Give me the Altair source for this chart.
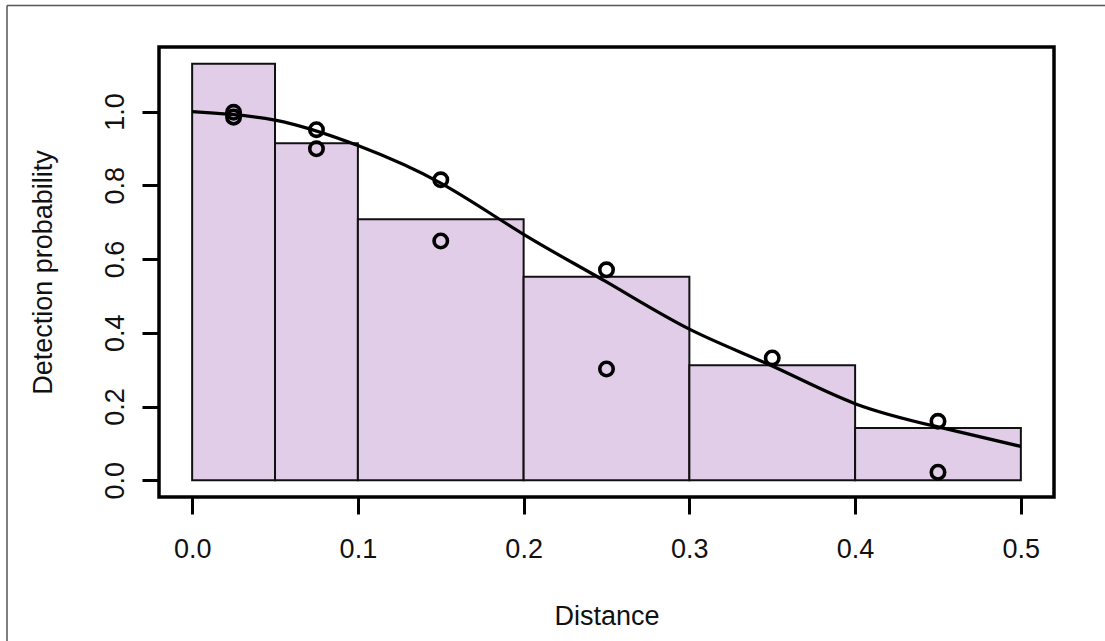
import altair as alt
import pandas as pd

# Histogram of scaled detections per distance bin
bin_left = [0.0, 0.05, 0.1, 0.2, 0.3, 0.4]
bin_right = [0.05, 0.1, 0.2, 0.3, 0.4, 0.5]
bin_height = [1.130, 0.914, 0.708, 0.552, 0.312, 0.142]

# Observed detection proportions at bin midpoints
point_x = [0.025, 0.025, 0.075, 0.075, 0.15, 0.15, 0.25, 0.25, 0.35, 0.45, 0.45]
point_y = [0.985, 0.998, 0.951, 0.899, 0.815, 0.649, 0.571, 0.302, 0.332, 0.160, 0.022]

# Fitted detection function
curve_x = [0.0, 0.05, 0.1, 0.15, 0.2, 0.25, 0.3, 0.35, 0.4, 0.45, 0.5]
curve_y = [1.0, 0.977, 0.908, 0.806, 0.667, 0.538, 0.410, 0.310, 0.208, 0.145, 0.092]

x_ticks = [0.0, 0.1, 0.2, 0.3, 0.4, 0.5]
y_ticks = [0.0, 0.2, 0.4, 0.6, 0.8, 1.0]

FONT = "Liberation Sans"
W, H = 895, 450

bars_df = pd.DataFrame({"left": bin_left, "right": bin_right,
                        "height": bin_height, "base": [0.0] * len(bin_left)})
pts_df = pd.DataFrame({"distance": point_x, "prob": point_y})
curve_df = pd.DataFrame({"distance": curve_x, "prob": curve_y})

xscale = alt.Scale(domain=[-0.02, 0.52], nice=False, zero=False)
yscale = alt.Scale(domain=[-0.0452, 1.1752], nice=False, zero=False)

x_axis = alt.Axis(
    values=x_ticks, format=".1f", domain=False, grid=False,
    tickSize=17, tickWidth=3, tickColor="black",
    labelFont=FONT, labelFontSize=27, labelColor="#111111",
    labelBaseline="alphabetic", labelPadding=43,
    title="Distance", titleFont=FONT, titleFontSize=27, titleFontWeight="normal",
    titleColor="#111111", titleX=W / 2, titleY=127, titleAlign="center",
    titleBaseline="alphabetic", titleAngle=0,
)
y_axis = alt.Axis(
    values=y_ticks, format=".1f", domain=False, grid=False,
    tickSize=17, tickWidth=3, tickColor="black",
    labelFont=FONT, labelFontSize=27, labelColor="#111111",
    labelAngle=-90, labelAlign="center", labelBaseline="alphabetic", labelPadding=19,
    title="Detection probability", titleFont=FONT, titleFontSize=27,
    titleFontWeight="normal", titleColor="#111111",
    titleX=-108, titleY=H / 2, titleAngle=-90, titleAlign="center",
    titleBaseline="alphabetic",
)

bars = alt.Chart(bars_df).mark_rect(
    fill="#E2CDE9", stroke="#111111", strokeWidth=2
).encode(
    x=alt.X("left:Q", scale=xscale, axis=x_axis),
    x2="right:Q",
    y=alt.Y("height:Q", scale=yscale, axis=y_axis),
    y2="base:Q",
)

curve = alt.Chart(curve_df).mark_line(
    color="black", strokeWidth=3.2, interpolate="natural"
).encode(
    x=alt.X("distance:Q", scale=xscale),
    y=alt.Y("prob:Q", scale=yscale),
)

points = alt.Chart(pts_df).mark_point(
    shape="circle", filled=False, color="black", strokeWidth=3.6, size=180, opacity=1
).encode(
    x=alt.X("distance:Q", scale=xscale),
    y=alt.Y("prob:Q", scale=yscale),
)

# Thin page border along the top and left edges
border_top = alt.Chart(pd.DataFrame({"k": [0]})).mark_rule(
    color="#555555", strokeWidth=1.5
).encode(x=alt.value(-152), x2=alt.value(W + 51), y=alt.value(-41.5))
border_left = alt.Chart(pd.DataFrame({"k": [0]})).mark_rule(
    color="#555555", strokeWidth=1.5
).encode(x=alt.value(-152), y=alt.value(-41.5), y2=alt.value(H + 144))

chart = alt.layer(bars, curve, points, border_top, border_left).properties(
    width=W, height=H,
    autosize=alt.AutoSizeParams(type="none"),
    padding={"left": 159, "top": 47, "right": 51, "bottom": 144},
    background="white",
).configure_view(
    stroke="black", strokeWidth=3.5
)

chart.save("out.html", embed_options={"renderer": "svg", "actions": False})
